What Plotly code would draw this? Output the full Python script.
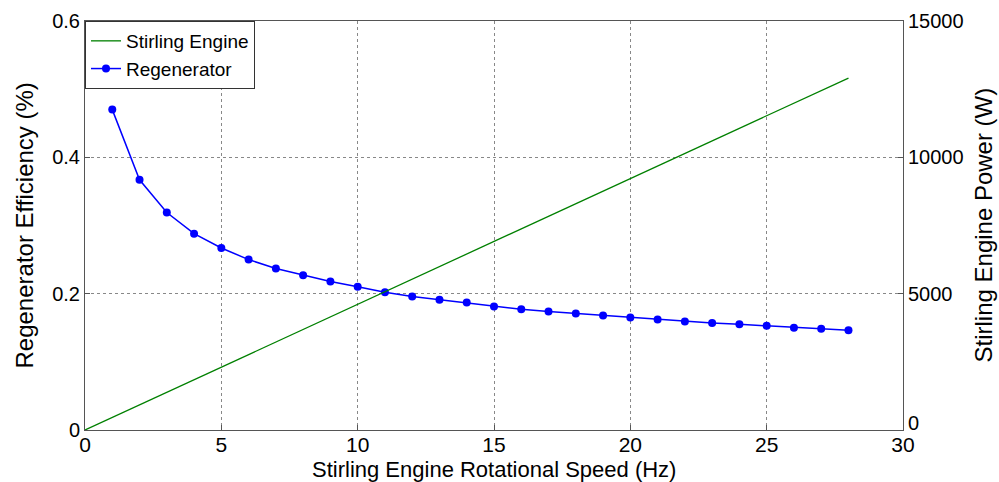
import plotly.graph_objects as go

# Data
speed_power = [0, 1, 2, 3, 4, 5, 6, 7, 8, 9, 10, 11, 12, 13, 14, 15, 16, 17, 18, 19,
               20, 21, 22, 23, 24, 25, 26, 27, 28]
power = [0, 461, 922, 1383, 1844, 2305, 2766, 3227, 3688, 4149, 4610, 5071, 5532, 5993,
         6454, 6915, 7376, 7837, 8298, 8759, 9220, 9681, 10142, 10603, 11064, 11525,
         11986, 12447, 12908]

speed_regen = [1, 2, 3, 4, 5, 6, 7, 8, 9, 10, 11, 12, 13, 14, 15, 16, 17, 18, 19, 20,
               21, 22, 23, 24, 25, 26, 27, 28]
regen_eff = [0.470, 0.367, 0.319, 0.288, 0.267, 0.250, 0.237, 0.227, 0.218, 0.210,
             0.202, 0.196, 0.191, 0.187, 0.181, 0.177, 0.174, 0.171, 0.168, 0.165,
             0.162, 0.159, 0.157, 0.155, 0.153, 0.150, 0.1485, 0.1465]

x_ticks = [0, 5, 10, 15, 20, 25, 30]
y_ticks = [0, 0.2, 0.4, 0.6]
y_tick_text = ["0", "0.2", "0.4", "0.6"]
y2_ticks = [0, 5000, 10000, 15000]
y2_tick_text = ["0", "5000", "10000", "15000"]

x_title = "Stirling Engine Rotational Speed (Hz)"
y_title = "Regenerator Efficiency (%)"
y2_title = "Stirling Engine Power (W)"

FONT = "Liberation Sans, Arial, sans-serif"

fig = go.Figure()
fig.add_trace(go.Scatter(
    x=speed_power, y=power, name="Stirling Engine", mode="lines",
    line=dict(color="rgb(0,128,0)", width=1.3), yaxis="y2"))
fig.add_trace(go.Scatter(
    x=speed_regen, y=regen_eff, name="Regenerator", mode="lines+markers",
    line=dict(color="#0000ff", width=1.5),
    marker=dict(color="#0000ff", size=8)))

axis_common = dict(
    showline=True, linecolor="#555555", linewidth=1,
    ticks="inside", ticklen=5, tickcolor="#555555",
    zeroline=False, automargin=False,
)

# right-axis labels: the bottom one is lifted slightly (as in the reference)
y2_axis_text = [""] + y2_tick_text[1:]

fig.update_layout(
    width=999, height=482,
    margin=dict(l=85, r=96, t=21, b=52),
    paper_bgcolor="white", plot_bgcolor="white",
    font=dict(family=FONT, color="black"),
    showlegend=True,
    legend=dict(x=0, y=1, xanchor="left", yanchor="top",
                bgcolor="white", bordercolor="#333333", borderwidth=1,
                font=dict(family=FONT, size=19, color="black"),
                tracegroupgap=0, itemwidth=30),
    xaxis=dict(
        range=[0, 30], tickvals=x_ticks, mirror=True,
        showgrid=True, gridcolor="#888888", griddash="dot", gridwidth=1,
        tickfont=dict(family=FONT, size=21, color="black"),
        ticklabelstandoff=-4,
        **axis_common),
    yaxis=dict(
        range=[0, 0.6], tickvals=y_ticks, ticktext=y_tick_text,
        showgrid=True, gridcolor="#888888", griddash="dot", gridwidth=1,
        tickfont=dict(family=FONT, size=20, color="black"),
        **axis_common),
    yaxis2=dict(
        range=[0, 15000], tickvals=y2_ticks, ticktext=y2_axis_text,
        overlaying="y", side="right", showgrid=False,
        tickfont=dict(family=FONT, size=20, color="black"),
        **axis_common),
    annotations=[
        dict(text=y2_tick_text[0], xref="paper", yref="y2", x=1, y=y2_ticks[0],
             xanchor="left", yanchor="middle", xshift=3, yshift=7,
             showarrow=False, font=dict(family=FONT, size=20, color="black")),
        dict(text=x_title, xref="paper", yref="paper", x=0.5, y=0,
             xanchor="center", yanchor="middle", yshift=-39, showarrow=False,
             font=dict(family=FONT, size=22, color="black")),
        dict(text=y_title, xref="paper", yref="paper", x=0, y=0.5,
             xanchor="center", yanchor="middle", xshift=-61, textangle=-90,
             showarrow=False, font=dict(family=FONT, size=24, color="black")),
        dict(text=y2_title, xref="paper", yref="paper", x=1, y=0.5,
             xanchor="center", yanchor="middle", xshift=80, textangle=-90,
             showarrow=False, font=dict(family=FONT, size=24, color="black")),
    ],
)

fig.write_html("out.html",
               config={"displayModeBar": False},
               post_script="document.body.style.margin='0';"
                           "document.body.style.overflow='hidden';")
